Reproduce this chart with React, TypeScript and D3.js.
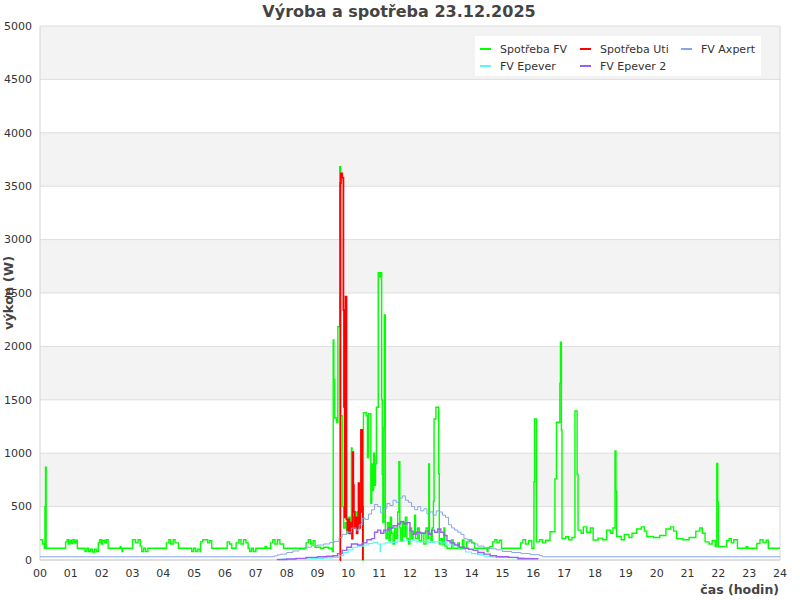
import React from "react";
import * as d3 from "d3";

const hourLabels = ["00","01","02","03","04","05","06","07","08","09","10","11","12","13","14","15","16","17","18","19","20","21","22","23","24"];
const yTickValues = [0, 500, 1000, 1500, 2000, 2500, 3000, 3500, 4000, 4500, 5000];

const spotrebaFV: [number, number][] = [
  [0.00,190],[0.08,150],[0.14,110],[0.16,500],[0.18,870],[0.20,110],
  [0.83,170],[0.88,190],[0.92,150],[0.97,185],[1.02,155],[1.07,190],[1.12,160],[1.17,185],[1.21,110],
  [1.46,80],[1.52,110],[1.58,80],[1.64,100],[1.70,75],[1.77,100],[1.83,80],
  [1.89,160],[1.94,190],[1.99,150],[2.04,185],[2.10,160],[2.15,190],[2.21,110],
  [2.60,125],[2.63,110],[2.66,80],[2.68,110],
  [3.00,190],[3.10,160],[3.18,190],[3.25,130],[3.30,80],[3.36,110],[3.42,80],[3.50,110],
  [4.10,160],[4.18,190],[4.24,150],[4.32,190],[4.38,160],[4.49,110],
  [4.92,80],[4.98,110],[5.05,80],[5.12,100],[5.19,80],
  [5.21,170],[5.28,190],[5.44,160],[5.50,180],[5.57,110],
  [6.07,170],[6.15,150],[6.22,110],
  [6.36,160],[6.45,190],[6.52,150],[6.60,190],[6.68,160],[6.75,110],[6.80,80],[6.86,110],[6.92,80],[7.00,110],
  [7.30,125],[7.35,110],
  [7.48,160],[7.55,190],[7.62,150],[7.70,190],[7.78,150],[7.90,110],
  [8.63,160],[8.70,190],[8.78,150],[8.86,180],[8.92,120],[9.10,110],[9.20,120],[9.35,110],[9.48,80],
  [9.51,2060],[9.53,1690],[9.56,1330],[9.62,1290],[9.66,2185],[9.72,3683],[9.75,1350],
  [9.80,500],[9.85,300],[9.90,350],[9.95,250],[10.00,400],[10.05,300],[10.10,1050],[10.12,400],
  [10.18,300],[10.25,450],[10.30,300],[10.35,500],[10.40,350],[10.47,0],
  [10.49,1380],[10.58,1350],[10.62,960],[10.65,1370],[10.73,530],[10.76,900],[10.79,650],[10.82,1000],
  [10.85,700],[10.88,900],[10.91,1430],[10.97,2690],[11.02,2650],[11.05,2690],[11.08,1500],[11.10,800],
  [11.12,350],[11.15,1240],[11.17,2295],[11.20,260],
  [11.22,200],[11.27,350],[11.32,180],[11.36,400],[11.40,250],[11.45,150],[11.50,300],[11.55,200],
  [11.60,450],[11.64,920],[11.67,300],[11.70,180],[11.75,350],[11.80,220],[11.85,400],[11.90,200],
  [11.95,150],[12.00,300],[12.05,200],[12.10,250],[12.15,420],[12.18,200],[12.25,300],[12.30,180],
  [12.38,250],[12.45,150],[12.52,300],[12.58,200],[12.61,900],[12.63,250],[12.68,180],[12.72,300],
  [12.76,550],[12.78,1320],[12.84,1430],[12.93,810],[12.95,150],[13.00,200],[13.05,150],[13.10,300],
  [13.13,130],[13.20,110],[13.35,187],[13.40,110],[13.55,160],[13.60,110],[13.70,187],[13.75,110],
  [13.84,170],[13.92,187],[14.00,160],[14.10,110],[14.50,78],[14.53,110],[14.58,125],
  [14.68,170],[14.75,190],[14.82,160],[14.90,185],[14.97,110],
  [15.59,160],[15.66,190],[15.75,150],[15.85,180],[15.95,110],
  [16.02,733],[16.04,1320],[16.10,170],[16.20,190],[16.30,160],[16.40,185],[16.54,265],
  [16.70,760],[16.75,1290],[16.86,1655],[16.88,2040],[16.91,1217],[16.93,200],[17.05,218],[17.15,190],[17.25,210],
  [17.35,1395],[17.42,800],[17.45,280],[17.55,250],[17.62,310],[17.73,260],[17.85,300],[17.94,187],
  [18.10,205],[18.25,190],[18.38,280],[18.50,250],[18.58,300],[18.65,1020],[18.68,645],[18.70,220],
  [18.85,190],[18.95,240],[19.10,210],[19.20,250],[19.35,290],[19.50,310],[19.60,270],[19.68,220],
  [19.90,210],[20.10,230],[20.30,290],[20.45,310],[20.55,270],[20.65,200],[20.85,190],[21.05,210],
  [21.27,270],[21.40,300],[21.48,250],[21.57,170],[21.70,150],[21.80,180],[21.90,125],
  [21.95,905],[21.98,545],[22.00,125],[22.27,180],[22.35,200],[22.42,160],[22.50,190],[22.62,110],
  [22.90,125],[22.95,110],[23.25,155],[23.35,190],[23.45,165],[23.55,185],[23.62,110],[24.00,110]
];

const spotrebaUti: [number, number][] = [
  [9.72,0],[9.74,3530],[9.76,3620],[9.80,3580],[9.84,2340],[9.86,1435],[9.88,400],[9.91,2465],
  [9.94,380],[9.97,280],[10.00,380],[10.03,250],[10.06,350],[10.09,300],[10.12,200],[10.14,1010],
  [10.16,700],[10.18,450],[10.21,300],[10.24,400],[10.27,250],[10.30,350],[10.33,720],[10.35,300],
  [10.38,450],[10.41,1217],[10.45,500],[10.47,0]
];

const fvAxpert: [number, number][] = [
  [0,30],[7.6,38],[7.7,48],[7.8,55],[8.0,70],[8.2,85],[8.4,100],[8.6,120],[8.8,135],[9.0,140],[9.2,150],
  [9.4,165],[9.55,175],[9.7,210],[9.8,240],[9.95,260],[10.1,300],[10.25,280],[10.35,330],[10.45,390],
  [10.55,380],[10.65,430],[10.75,470],[10.85,520],[10.95,500],[11.05,440],[11.15,480],[11.25,530],
  [11.35,510],[11.45,560],[11.55,540],[11.65,580],[11.75,600],[11.85,560],[11.95,540],[12.05,500],
  [12.15,470],[12.25,500],[12.35,460],[12.45,480],[12.55,430],[12.65,450],[12.75,420],[12.85,460],
  [12.95,450],[13.05,420],[13.15,400],[13.25,330],[13.35,300],[13.45,280],[13.55,260],[13.65,240],
  [13.75,200],[13.85,190],[13.95,170],[14.05,150],[14.2,130],[14.4,115],[14.6,105],[14.8,95],
  [15.0,80],[15.3,70],[15.6,60],[15.9,50],[16.2,40],[16.3,30],[24,30]
];

const fvEpever: [number, number][] = [
  [7.84,10],[8.3,12],[8.8,15],[9.2,20],[9.5,25],[9.7,40],[9.85,70],[10.0,95],[10.15,120],[10.3,130],
  [10.5,140],[10.65,155],[10.8,165],[10.95,150],[11.03,78],[11.05,150],[11.2,160],[11.4,165],
  [11.6,175],[11.8,185],[12.0,180],[12.2,170],[12.4,175],[12.6,165],[12.8,170],[13.0,160],[13.2,140],
  [13.4,120],[13.6,100],[13.8,75],[14.0,60],[14.2,50],[14.4,35],[14.6,28],[14.9,25],[15.3,22],
  [15.7,15],[16.0,15]
];

const fvEpever2: [number, number][] = [
  [7.68,5],[8.0,10],[8.3,15],[8.63,25],[9.0,30],[9.3,35],[9.5,40],[9.65,60],[9.8,90],[9.95,120],
  [10.1,150],[10.3,140],[10.45,160],[10.6,190],[10.75,200],[10.85,260],[10.95,280],[11.05,250],
  [11.15,280],[11.3,300],[11.45,320],[11.6,340],[11.7,360],[11.8,340],[11.9,350],[12.0,270],
  [12.1,240],[12.2,260],[12.35,250],[12.5,270],[12.6,240],[12.7,280],[12.8,260],[12.9,290],
  [13.0,260],[13.1,230],[13.2,180],[13.3,160],[13.45,140],[13.6,120],[13.75,110],[13.9,100],
  [14.05,90],[14.2,70],[14.4,55],[14.6,40],[14.8,30],[15.2,25],[15.5,12],[16.15,10]
];

const seriesNames = ["Spotřeba FV", "Spotřeba Uti", "FV Axpert", "FV Epever", "FV Epever 2"];
const seriesColors = ["#00ff00", "#ff0000", "#86a6e6", "#5ef7f0", "#9b5ff2"];

export default function App() {
  const W = 800, H = 600;
  const left = 40, right = 780, top = 26, bottom = 560;
  const x = d3.scaleLinear().domain([0, 24]).range([left, right]);
  const y = d3.scaleLinear().domain([0, 5000]).range([bottom, top]);
  const line = d3.line<[number, number]>().x(d => x(d[0])).y(d => y(d[1])).curve(d3.curveStepAfter);

  const bands = yTickValues.slice(0, -1).map((v, i) => ({ v0: v, v1: yTickValues[i + 1], gray: i % 2 === 1 }));
  const data = [spotrebaFV, spotrebaUti, fvAxpert, fvEpever, fvEpever2];
  const widths = [1.4, 1.8, 1, 1.1, 1.4];
  const drawOrder = [0, 1, 2, 3, 4];
  const font = "DejaVu Sans, Verdana, sans-serif";
  const legendPos = [[480, 49], [580, 49], [681, 49], [480, 66], [580, 66]];

  return (
    <svg width={W} height={H} style={{ position: "fixed", left: 0, top: 0, background: "#fff" }} fontFamily={font}>
      <rect x={0} y={0} width={W} height={H} fill="#fff" />
      {bands.map((b, i) => (
        <rect key={i} x={left} y={y(b.v1)} width={right - left} height={y(b.v0) - y(b.v1)} fill={b.gray ? "#f3f3f3" : "#ffffff"} />
      ))}
      {yTickValues.map(v => (
        <line key={v} x1={left} x2={right} y1={y(v)} y2={y(v)} stroke="#dddddd" strokeWidth={1} />
      ))}
      <line x1={left} x2={left} y1={top} y2={bottom} stroke="#d6d6d6" />
      <line x1={right} x2={right} y1={top} y2={bottom} stroke="#d6d6d6" />
      <line x1={left} x2={right} y1={bottom} y2={bottom} stroke="#d0d0d0" />
      {yTickValues.map(v => (
        <text key={v} x={32} y={y(v)} dy="0.35em" textAnchor="end" fontSize={11} fill="#333">{v}</text>
      ))}
      {hourLabels.map((l, i) => (
        <text key={l} x={x(i)} y={577} textAnchor="middle" fontSize={11} fill="#333">{l}</text>
      ))}
      <g>
        {drawOrder.map(i => (
          <path key={i} d={line(data[i]) || ""} fill="none" stroke={seriesColors[i]} strokeWidth={widths[i]} />
        ))}
      </g>
      <text x={399} y={17} textAnchor="middle" fontSize={16} fontWeight="bold" fill="#444">Výroba a spotřeba 23.12.2025</text>
      <text transform="translate(13,293) rotate(-90)" textAnchor="middle" fontSize={13} fontWeight="bold" fill="#444">výkon (W)</text>
      <text x={779} y={594} textAnchor="end" fontSize={12.5} fontWeight="bold" fill="#444">čas (hodin)</text>
      <rect x={475} y={36} width={286} height={40} fill="#ffffff" />
      {seriesNames.map((n, i) => (
        <g key={n}>
          <line x1={legendPos[i][0]} x2={legendPos[i][0] + 11} y1={legendPos[i][1]} y2={legendPos[i][1]} stroke={seriesColors[i]} strokeWidth={2} />
          <text x={legendPos[i][0] + 20} y={legendPos[i][1]} dy="0.35em" fontSize={11} fill="#333">{n}</text>
        </g>
      ))}
    </svg>
  );
}
